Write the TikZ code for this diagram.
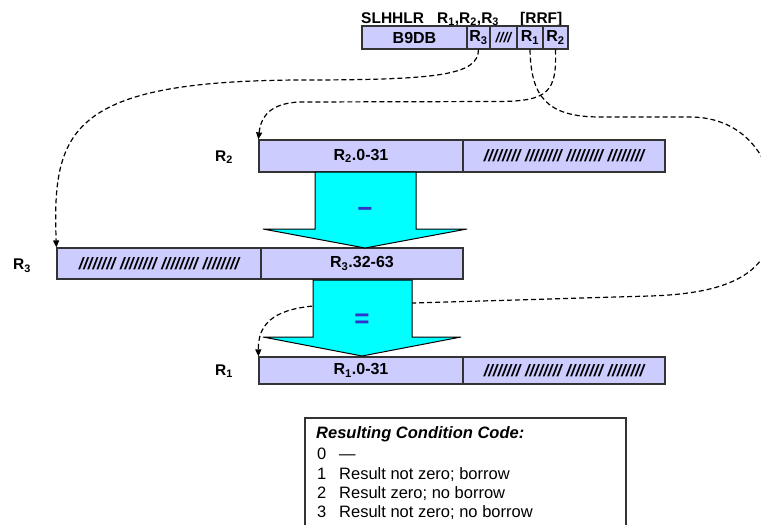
\documentclass[tikz,border=0pt]{standalone}
\usepackage{fontspec}
\setmainfont{Liberation Sans}
\usetikzlibrary{arrows.meta,shadows}

\definecolor{regfill}{HTML}{CCCCFF}
\definecolor{regline}{HTML}{333333}
\definecolor{flowfill}{HTML}{00FFFF}
\definecolor{opblue}{HTML}{3333CC}

\tikzset{
  regcell/.style={draw=regline, line width=1.2pt, fill=regfill, inner sep=0pt,
    drop shadow={shadow xshift=1.2pt, shadow yshift=-1.2pt, fill=black!30, opacity=1},
    font=\fontsize{16}{18}\selectfont\bfseries},
  fmtcell/.style={draw=regline, line width=1.1pt, fill=regfill, inner sep=0pt,
    minimum height=23pt, font=\fontsize{16}{18}\selectfont\bfseries},
  hdrtext/.style={inner sep=0pt, anchor=base west, font=\fontsize{15.5}{18}\selectfont\bfseries},
  reglabel/.style={inner sep=0pt, font=\fontsize{15.5}{18}\selectfont\bfseries},
  hatch/.style={font=\fontsize{16.5}{18}\selectfont\bfseries\itshape},
  flowarrow/.style={draw=black, line width=1pt, fill=flowfill, line join=miter},
  opsign/.style={inner sep=0pt, text=opblue, font=\fontsize{26}{28}\selectfont\bfseries},
  fieldlink/.style={draw=black, line width=1.2pt, dash pattern=on 5pt off 3pt,
    -{Triangle[length=7pt,width=6pt]}},
  legendtext/.style={inner sep=0pt, anchor=base west, font=\fontsize{16.5}{18}\selectfont},
}

\begin{document}
\begin{tikzpicture}[x=1pt,y=-1pt]
\clip (0,0) rectangle (761,525);
\fill[white] (0,0) rectangle (761,525);

% instruction format
\node[hdrtext] (mnem)  at (361,23) {SLHHLR};
\node[hdrtext] (opnds) at (437,23) {R\textsubscript{1},R\textsubscript{2},R\textsubscript{3}};
\node[hdrtext] (fmt)   at (520,23) {[RRF]};

\node[fmtcell, minimum width=105pt] (opc) at (414.5,37.5) {B9DB};
\node[fmtcell, minimum width=23pt]  (r3c) at (478.5,37.5) {R\textsubscript{3}};
\node[fmtcell, minimum width=27pt, font=\fontsize{14}{16}\selectfont\bfseries\itshape] (unc) at (503.5,37.5) {////};
\node[fmtcell, minimum width=26pt]  (r1c) at (530,37.5) {R\textsubscript{1}};
\node[fmtcell, minimum width=25pt]  (r2c) at (555.5,37.5) {R\textsubscript{2}};

% register rows
\node[reglabel] (lblr2) at (224,157) {R\textsubscript{2}};
\node[regcell, minimum width=204pt, minimum height=32pt] (r2lo) at (361,156) {R\textsubscript{2}.0-31};
\node[regcell, minimum width=202pt, minimum height=32pt, hatch] (r2hi) at (564,156) {//////// //////// //////// ////////};

\node[reglabel] (lblr3) at (22,266) {R\textsubscript{3}};
\node[regcell, minimum width=204pt, minimum height=31pt, hatch] (r3hi) at (159,263.5) {//////// //////// //////// ////////};
\node[regcell, minimum width=202pt, minimum height=31pt] (r3lo) at (362,263.5) {R\textsubscript{3}.32-63};

\node[reglabel] (lblr1) at (224,371) {R\textsubscript{1}};
\node[regcell, minimum width=204pt, minimum height=27pt] (r1lo) at (361,370.5) {R\textsubscript{1}.0-31};
\node[regcell, minimum width=202pt, minimum height=27pt, hatch] (r1hi) at (564,370.5) {//////// //////// //////// ////////};

% operand field links
\draw[fieldlink] (r3c.south) .. controls (478,75) and (440,80) .. (300,80)
  .. controls (70,81) and (52,130) .. (r3hi.north west);
\draw[fieldlink] (r2c.south) .. controls (557,92) and (548,101) .. (500,101.5)
  -- (300,102) .. controls (272,103) and (261,115) .. (r2lo.north west);
\draw[fieldlink] (r1c.south) .. controls (531,95) and (545,117) .. (600,117)
  -- (690,117) .. controls (745,117) and (775,160) .. (775,210)
  .. controls (775,265) and (745,293) .. (650,296)
  -- (313,306) .. controls (272,310) and (258,325) .. (r1lo.north west);

% operation arrows
\draw[flowarrow] (315,172) -- (416,172) -- (416,229) -- (467,229) -- (365,248)
  -- (263,229) -- (315,229) -- cycle;
\node[opsign] (minus) at (365,212) {−};
\draw[flowarrow] (313,280) -- (412,280) -- (412,337) -- (461,337) -- (362,356)
  -- (263,337) -- (313,337) -- cycle;
\node[opsign] (equals) at (362,321) {=};

% condition code legend
\node[draw=regline, line width=1.2pt, fill=white, minimum width=321pt, minimum height=122pt,
  drop shadow={shadow xshift=1.2pt, shadow yshift=-1.2pt, fill=black!30, opacity=1}] (legend) at (465.5,479) {};
\node[legendtext, font=\fontsize{16.5}{18}\selectfont\bfseries\itshape] (lgtitle) at (316,438) {Resulting Condition Code:};
\node[legendtext] (cc0) at (317,459) {0};
\node[legendtext] (cc0t) at (339,459) {—};
\node[legendtext] (cc1) at (317,479) {1};
\node[legendtext] (cc1t) at (339,479) {Result not zero; borrow};
\node[legendtext] (cc2) at (317,498) {2};
\node[legendtext] (cc2t) at (339,498) {Result zero; no borrow};
\node[legendtext] (cc3) at (317,517) {3};
\node[legendtext] (cc3t) at (339,517) {Result not zero; no borrow};
\end{tikzpicture}
\end{document}
